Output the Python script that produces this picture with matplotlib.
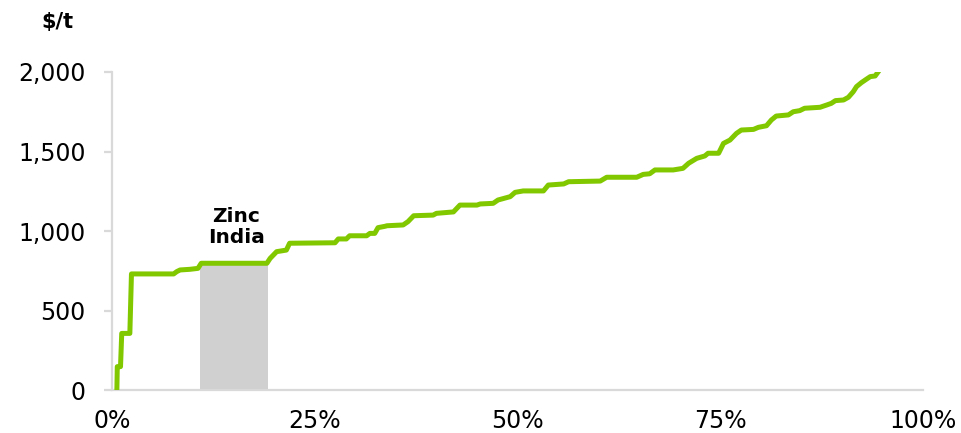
import matplotlib
matplotlib.use("Agg")
import matplotlib.pyplot as plt
from matplotlib.ticker import FuncFormatter

# cumulative production (%) and cost ($/t)
cum_pct = [0.6, 0.65, 1.05, 1.2, 2.2, 2.4, 7.6, 8.0, 8.4, 9.6,
           10.6, 11.0, 19.1, 19.5, 20.3, 21.5, 21.9, 27.5, 27.9, 28.9,
           29.3, 31.4, 31.8, 32.4, 32.8, 33.7, 33.9, 35.9, 36.5, 37.2,
           39.6, 40.0, 42.1, 42.9, 45.0, 45.4, 47.0, 47.6, 49.1, 49.7,
           50.7, 53.2, 53.8, 55.7, 56.3, 60.2, 61.0, 64.7, 65.5, 66.3,
           66.95, 69.2, 70.4, 71.1, 72.1, 73.1, 73.5, 74.8, 75.4, 76.2,
           77.0, 77.6, 79.1, 79.7, 80.7, 81.3, 81.9, 83.4, 84.0, 84.8,
           85.4, 87.3, 88.1, 88.7, 89.2, 90.2, 90.8, 91.4, 91.8, 92.4,
           93.0, 93.5, 94.1, 94.4]
cost = [0, 147, 147, 356, 356, 730, 730, 745, 755, 759,
        765, 797, 797, 828, 870, 880, 923, 926, 950, 950,
        970, 970, 985, 985, 1021, 1030, 1033, 1038, 1059, 1096,
        1100, 1111, 1120, 1163, 1163, 1170, 1174, 1195, 1216, 1243,
        1252, 1252, 1289, 1296, 1310, 1314, 1338, 1338, 1356, 1360,
        1384, 1384, 1394, 1426, 1457, 1472, 1489, 1489, 1551, 1572,
        1614, 1635, 1639, 1652, 1662, 1698, 1723, 1730, 1750, 1757,
        1772, 1778, 1792, 1803, 1820, 1824, 1841, 1876, 1908, 1933,
        1954, 1971, 1975, 1996]

# highlighted producer block
hl_start, hl_end, hl_cost = 10.9, 19.2, 797
hl_label = "Zinc\nIndia"

y_ticks = [0, 500, 1000, 1500, 2000]
x_ticks = [0, 25, 50, 75, 100]

grey = "#d9d9d9"
green = "#82c800"

fig = plt.figure(figsize=(9.61, 4.33), dpi=100)
ax = fig.add_axes([112 / 961, 43 / 433, (923 - 112) / 961, (390 - 72) / 433])

ax.fill_between([hl_start, hl_end], [hl_cost, hl_cost], 0, color="#d0d0d0", lw=0, zorder=1)
ax.plot(cum_pct, cost, color=green, lw=3.6, solid_joinstyle="round", zorder=3)

ax.text((hl_start + hl_end) / 2 + 0.3, 1025, hl_label, ha="center", va="center",
        fontsize=14.5, fontweight="bold", linespacing=1.15)

ax.set_xlim(0, 100)
ax.set_ylim(0, 2000)
ax.set_xticks(x_ticks)
ax.set_yticks(y_ticks)
ax.xaxis.set_major_formatter(FuncFormatter(lambda v, p: f"{v:.0f}%"))
ax.yaxis.set_major_formatter(FuncFormatter(lambda v, p: f"{v:,.0f}"))

for s in ["top", "right"]:
    ax.spines[s].set_visible(False)
for s in ["left", "bottom"]:
    ax.spines[s].set_color(grey)
    ax.spines[s].set_linewidth(1.6)

ax.tick_params(axis="y", length=6, width=1.6, color=grey, pad=13, labelsize=17)
ax.tick_params(axis="x", length=0, pad=14, labelsize=17)

fig.text(57 / 961, 1 - 22 / 433, "$/t", ha="center", va="center",
         fontsize=15, fontweight="bold")

fig.savefig("out.png", dpi=100)
